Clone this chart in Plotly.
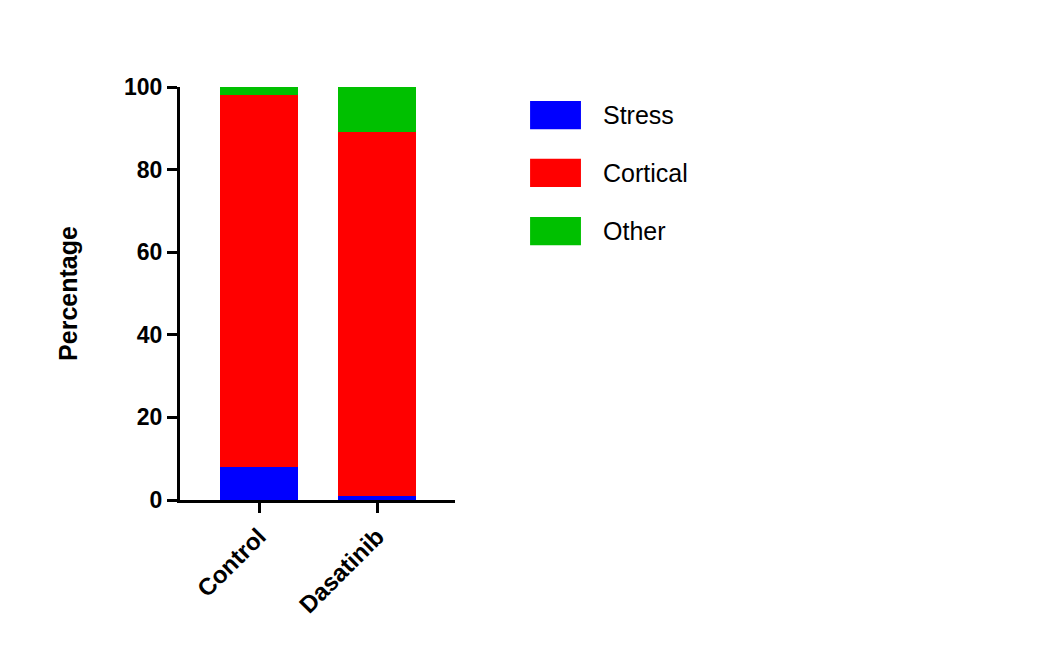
import plotly.graph_objects as go

categories = ["Control", "Dasatinib"]
stress = [8, 1]
cortical = [90, 88]
other = [2, 11]
series_names = ["Stress", "Cortical", "Other"]
colors = ["#0000FF", "#FF0000", "#00C000"]

fig = go.Figure()
for name, vals, c in zip(series_names, [stress, cortical, other], colors):
    fig.add_bar(x=categories, y=vals, name=name, marker=dict(color=c, line=dict(width=0)),
                width=0.66, showlegend=False)

font = "Liberation Sans, Arial, sans-serif"
ys = [(0.966, 0.898), (0.826, 0.758), (0.685, 0.617)]
for name, c, (y1, y0) in zip(series_names, colors, ys):
    fig.add_shape(type="rect", xref="paper", yref="paper", x0=1.273, x1=1.458, y0=y0, y1=y1,
                  fillcolor=c, line=dict(width=0))
    fig.add_annotation(xref="paper", yref="paper", x=1.53, y=(y0 + y1) / 2, text=name,
                       showarrow=False, xanchor="left", yanchor="middle",
                       font=dict(size=25, color="black", family=font))

fig.update_layout(
    barmode="stack", width=1053, height=652, plot_bgcolor="white", paper_bgcolor="white",
    margin=dict(l=172, r=606, t=79, b=160, autoexpand=False), font=dict(family=font, color="black"),
    xaxis=dict(range=[-0.67, 1.66], showline=True, linewidth=3, linecolor="black", automargin=False,
               ticks="outside", ticklen=10, tickwidth=3, tickcolor="black", tickangle=-45,
               tickfont=dict(size=24, color="black", weight="bold")),
    yaxis=dict(range=[0, 100], tickvals=[0, 20, 40, 60, 80, 100], showline=True, linewidth=3,
               linecolor="black", ticks="outside", ticklen=10, tickwidth=3, tickcolor="black",
               showgrid=False, zeroline=False, automargin=False,
               tickfont=dict(size=23, weight="bold"),
               title=dict(text="<b>Percentage</b>", font=dict(size=25), standoff=40)),
)
fig.write_html("out.html")
